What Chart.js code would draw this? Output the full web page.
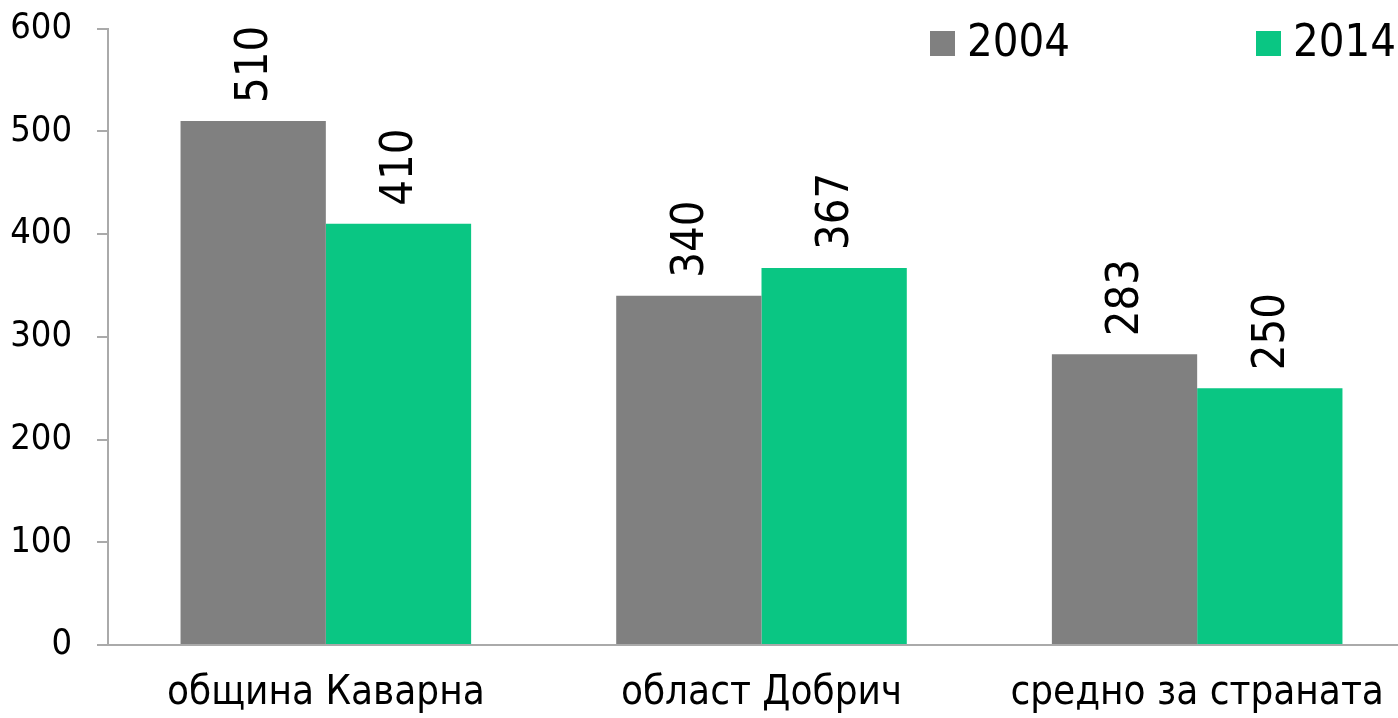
<!DOCTYPE html>
<html>
<head>
<meta charset="utf-8">
<script src="https://cdn.jsdelivr.net/npm/chart.js@4"></script>
<style>
    html, body { margin: 0; padding: 0; background: #fff; overflow: hidden; }
    #wrap { width: 1420px; height: 736px; margin-top: -18px; }
</style>
</head>
<body>
<div id="wrap"><canvas id="chart"></canvas></div>
<script>
// 資料
const categories = ['община Каварна', 'област Добрич', 'средно за страната'];
const years = ['2004', '2014'];
const values2004 = [510, 340, 283];
const values2014 = [410, 367, 250];
const yTicks = [0, 100, 200, 300, 400, 500, 600];

const FONT = '"DejaVu Sans Condensed", "DejaVu Sans", sans-serif';
const GRAY = '#808080';
const GREEN = '#0ac683';

// 柱狀上方的旋轉數字
const barLabels = {
    id: 'barLabels',
    afterDatasetsDraw(chart) {
        const ctx = chart.ctx;
        ctx.save();
        ctx.font = '45px ' + FONT;
        ctx.fillStyle = '#000';
        ctx.textAlign = 'left';
        ctx.textBaseline = 'middle';
        chart.data.datasets.forEach((ds, i) => {
            chart.getDatasetMeta(i).data.forEach((bar, j) => {
                ctx.save();
                ctx.translate(bar.x, bar.y - 18);
                ctx.rotate(-Math.PI / 2);
                ctx.fillText(String(ds.data[j]), 0, 2);
                ctx.restore();
            });
        });
        ctx.restore();
    }
};

// 右上角圖例 (canvas 往上移了 18px)
const topLegend = {
    id: 'topLegend',
    afterDraw(chart) {
        const ctx = chart.ctx;
        const xs = [930, 1256];
        ctx.save();
        ctx.font = '45px ' + FONT;
        ctx.textBaseline = 'middle';
        ctx.textAlign = 'left';
        chart.data.datasets.forEach((ds, i) => {
            ctx.fillStyle = ds.backgroundColor;
            ctx.fillRect(xs[i], 49, 25, 25);
            ctx.fillStyle = '#000';
            ctx.fillText(ds.label, xs[i] + 37, 62);
        });
        ctx.restore();
    }
};

const ctx = document.getElementById('chart').getContext('2d');
new Chart(ctx, {
    type: 'bar',
    data: {
        labels: categories,
        datasets: [
            { label: years[0], data: values2004, backgroundColor: GRAY },
            { label: years[1], data: values2014, backgroundColor: GREEN }
        ]
    },
    options: {
        responsive: true,
        maintainAspectRatio: false,
        animation: false,
        devicePixelRatio: 1,
        layout: { padding: { top: 11, right: 5, left: 0, bottom: 0 } },
        datasets: { bar: { categoryPercentage: 0.667, barPercentage: 1.0, borderWidth: 0 } },
        plugins: {
            legend: { display: false },
            tooltip: { enabled: false }
        },
        scales: {
            x: {
                grid: { drawOnChartArea: false, drawTicks: false },
                border: { color: '#aaaaaa', width: 2 },
                ticks: { color: '#000', font: { family: FONT, size: 40 }, padding: 25, maxRotation: 0, autoSkip: false },
                afterFit(scale) { scale.height = 73; }
            },
            y: {
                min: 0,
                max: 600,
                afterBuildTicks(scale) { scale.ticks = yTicks.map(v => ({ value: v })); },
                grid: { drawOnChartArea: false, tickLength: 11, color: '#aaaaaa', lineWidth: 2 },
                border: { color: '#aaaaaa', width: 2 },
                ticks: { color: '#000', font: { family: FONT, size: 36 }, padding: 25 },
                afterFit(scale) { scale.width = 108; }
            }
        }
    },
    plugins: [barLabels, topLegend]
});
</script>
</body>
</html>
